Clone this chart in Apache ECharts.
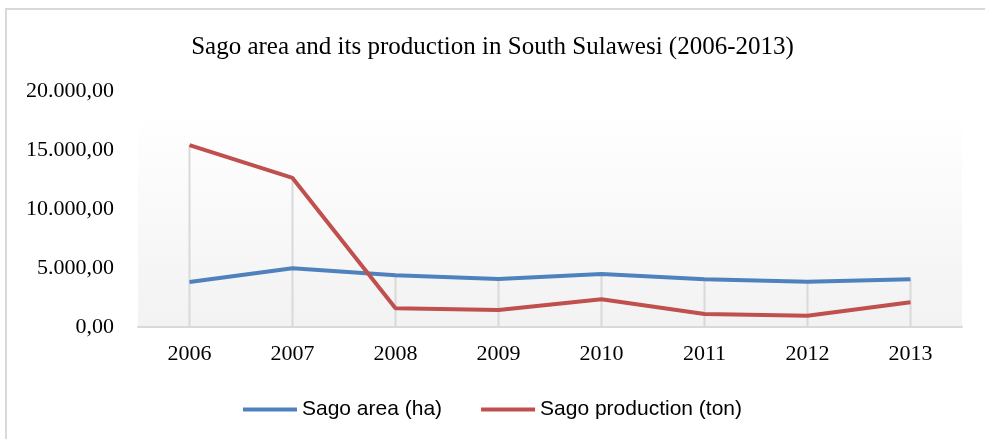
<!DOCTYPE html>
<html>
<head>
    <meta charset="utf-8" />
    <title>Sago area and its production</title>
    <script src="https://cdn.jsdelivr.net/npm/echarts@6/dist/echarts.min.js"></script>
    <style>
        html, body { margin: 0; padding: 0; background: #fff; }
        #main { width: 985px; height: 439px; }
    </style>
</head>
<body>
<div id="main"></div>
<script type="text/javascript">
    // data
    var years = ['2006', '2007', '2008', '2009', '2010', '2011', '2012', '2013'];
    var sagoArea = [3810, 4975, 4380, 4070, 4490, 4040, 3840, 4040];
    var sagoProduction = [15420, 12630, 1585, 1440, 2350, 1100, 960, 2090];
    var yTicks = [0, 5000, 10000, 15000, 20000];

    // drop lines go from the higher of the two lines down to the axis
    var dropLines = [];
    for (var i = 0; i < years.length; i++) {
        dropLines.push(Math.max(sagoArea[i], sagoProduction[i]));
    }

    function fmt(v) {
        var s = String(Math.round(v)).replace(/\B(?=(\d{3})+(?!\d))/g, '.');
        return s + ',00';
    }

    var serif = '"Liberation Serif", "Times New Roman", serif';
    var myChart = echarts.init(document.getElementById('main'));
    var option = {
        animation: false,
        backgroundColor: '#ffffff',
        graphic: [{
            type: 'rect',
            shape: { x: 6, y: 9, width: 1000, height: 460 },
            style: { fill: 'none', stroke: '#d9d9d9', lineWidth: 2 },
            z: -1
        }],
        title: {
            text: 'Sago area and its production in South Sulawesi (2006-2013)',
            left: 'center',
            top: 30,
            textStyle: { fontFamily: serif, fontSize: 25, fontWeight: 'normal', color: '#000' }
        },
        legend: {
            data: ['Sago area (ha)', 'Sago production (ton)'],
            left: 'center',
            top: 394,
            itemWidth: 54,
            itemHeight: 4,
            itemGap: 39,
            icon: 'rect',
            textStyle: { fontFamily: '"Liberation Sans", Arial, sans-serif', fontSize: 21, color: '#000' }
        },
        grid: {
            left: 138,
            right: 23,
            top: 91,
            bottom: 112,
            show: true,
            borderWidth: 0,
            backgroundColor: {
                type: 'linear', x: 0, y: 0, x2: 0, y2: 1,
                colorStops: [
                    { offset: 0, color: '#ffffff' },
                    { offset: 0.1, color: '#ffffff' },
                    { offset: 1, color: '#f2f2f2' }
                ]
            }
        },
        xAxis: {
            type: 'category',
            data: years,
            boundaryGap: true,
            axisLine: { lineStyle: { color: '#d9d9d9', width: 2 } },
            axisTick: { show: false },
            axisLabel: { fontFamily: serif, fontSize: 22, color: '#000', margin: 16 }
        },
        yAxis: {
            type: 'value',
            min: yTicks[0],
            max: yTicks[yTicks.length - 1],
            interval: yTicks[1] - yTicks[0],
            axisLine: { show: false },
            axisTick: { show: false },
            splitLine: { show: false },
            axisLabel: {
                fontFamily: serif, fontSize: 22, color: '#000', margin: 24,
                formatter: fmt
            }
        },
        series: [
            {
                name: 'drop',
                type: 'bar',
                data: dropLines,
                barWidth: 2,
                itemStyle: { color: '#d9d9d9' },
                silent: true,
                z: 1
            },
            {
                name: 'Sago area (ha)',
                type: 'line',
                data: sagoArea,
                symbol: 'none',
                lineStyle: { color: '#4f81bd', width: 4 },
                itemStyle: { color: '#4f81bd' },
                z: 3
            },
            {
                name: 'Sago production (ton)',
                type: 'line',
                data: sagoProduction,
                symbol: 'none',
                lineStyle: { color: '#c0504d', width: 4 },
                itemStyle: { color: '#c0504d' },
                z: 4
            }
        ]
    };
    myChart.setOption(option);
</script>
</body>
</html>
